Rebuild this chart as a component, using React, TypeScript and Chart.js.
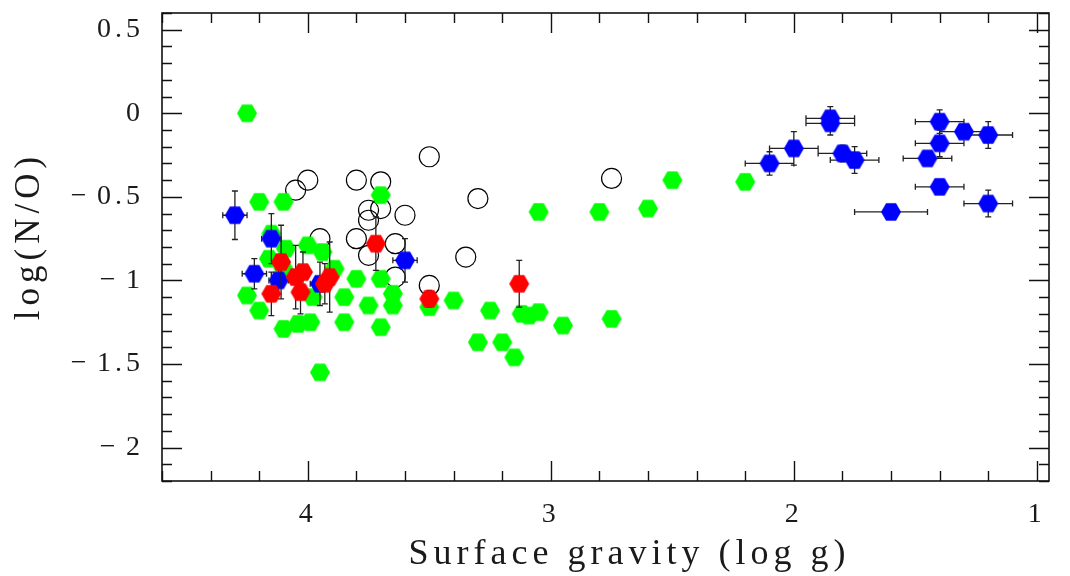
import React, { useEffect, useRef } from 'react';
import { Chart, registerables } from 'chart.js';

Chart.register(...registerables);

// ---------- data ----------
const greenLogG = [4.25, 4.20, 4.10, 3.70, 3.05, 2.80, 2.60, 2.50, 2.20, 4.15, 4.09, 4.00, 3.94, 4.16, 4.10, 3.89, 3.80, 3.70, 3.65, 3.85, 3.75, 3.65, 3.98, 4.25, 4.20, 4.10, 4.04, 3.99, 3.85, 3.70, 3.95, 3.50, 3.40, 3.25, 3.30, 3.20, 3.15, 3.12, 3.09, 3.05, 2.95, 2.75];
const greenLogNO = [0.00, -0.53, -0.53, -0.49, -0.59, -0.59, -0.57, -0.40, -0.41, -0.72, -0.81, -0.79, -0.83, -0.87, -0.93, -0.93, -0.99, -0.99, -1.08, -1.10, -1.15, -1.15, -1.10, -1.09, -1.18, -1.29, -1.26, -1.25, -1.25, -1.28, -1.55, -1.16, -1.12, -1.18, -1.37, -1.37, -1.46, -1.20, -1.21, -1.19, -1.27, -1.23];

const circleLogG = [4.00, 4.05, 3.80, 3.70, 3.50, 3.30, 2.75, 3.75, 3.75, 3.70, 3.60, 3.80, 3.64, 3.75, 3.64, 3.95, 3.35, 3.50];
const circleLogNO = [-0.40, -0.46, -0.40, -0.41, -0.26, -0.51, -0.39, -0.58, -0.64, -0.57, -0.61, -0.75, -0.78, -0.85, -0.98, -0.75, -0.86, -1.03];

const blueLogG = [4.30, 4.15, 4.22, 4.12, 3.60, 3.95, 1.85, 1.85, 2.00, 2.10, 1.80, 1.75, 1.60, 1.40, 1.30, 1.20, 1.40, 1.45, 1.40, 1.20];
const blueLogNO = [-0.61, -0.75, -0.96, -1.00, -0.88, -1.02, -0.03, -0.06, -0.21, -0.30, -0.24, -0.28, -0.59, -0.05, -0.11, -0.13, -0.18, -0.27, -0.44, -0.54];
const blueLogGErr = [0.05, 0.04, 0.05, 0.04, 0.05, 0.04, 0.10, 0.10, 0.10, 0.10, 0.10, 0.10, 0.15, 0.10, 0.10, 0.10, 0.10, 0.10, 0.10, 0.10];
const blueLogNOErr = [0.145, 0.15, 0.09, 0.08, 0.13, 0.13, 0.07, 0.07, 0.10, 0.07, 0.05, 0.08, 0.0, 0.07, 0.0, 0.08, 0.08, 0.02, 0.02, 0.08];

const redLogG = [3.72, 4.11, 4.02, 4.15, 4.03, 4.05, 3.91, 3.93, 3.50, 3.13];
const redLogNO = [-0.78, -0.89, -0.95, -1.08, -1.07, -0.98, -0.98, -1.02, -1.11, -1.02];
const redLogGErr = [0, 0, 0, 0, 0, 0, 0, 0, 0, 0];
const redLogNOErr = [0.16, 0.22, 0.12, 0.13, 0.13, 0.19, 0.21, 0.12, 0.05, 0.14];

const xTickValues = [4, 3, 2, 1];
const xTickLabels = ['4', '3', '2', '1'];
const yTickValues = [0.5, 0, -0.5, -1, -1.5, -2];
const yTickLabels = ['0.5', '0', '\u2212\u200A0.5', '\u2212\u200A1', '\u2212\u200A1.5', '\u2212\u200A2'];

const xTitle = 'Surface gravity (log g)';
const yTitle = 'log(N/O)';

const X_MIN = 0.95;
const X_MAX = 4.6;
const Y_MIN = -2.2;
const Y_MAX = 0.6;

const FONT = '"Liberation Serif", "DejaVu Serif", serif';
const TEXT_COLOR = '#1a1a1a';

function makeHexagon(color: string, r: number): HTMLCanvasElement {
  const w = 2 * r + 2;
  const h = Math.ceil(Math.sqrt(3) * r) + 2;
  const c = document.createElement('canvas');
  c.width = w;
  c.height = h;
  const ctx = c.getContext('2d')!;
  ctx.fillStyle = color;
  ctx.beginPath();
  for (let i = 0; i < 6; i++) {
    const a = (Math.PI / 3) * i;
    const px = w / 2 + r * Math.cos(a);
    const py = h / 2 + r * Math.sin(a);
    if (i === 0) ctx.moveTo(px, py);
    else ctx.lineTo(px, py);
  }
  ctx.closePath();
  ctx.fill();
  return c;
}

function zip(xs: number[], ys: number[]) {
  return xs.map((x, i) => ({ x, y: ys[i] }));
}

const errorBarPlugin = {
  id: 'errorBars',
  beforeDatasetDraw(chart: any, args: any) {
    const ds = chart.data.datasets[args.index];
    if (!ds.xErr && !ds.yErr) return;
    const { ctx } = chart;
    const xs = chart.scales.x;
    const ys = chart.scales.y;
    const cap = 3;
    ctx.save();
    ctx.strokeStyle = '#222';
    ctx.lineWidth = 1.3;
    ctx.beginPath();
    ds.data.forEach((p: any, i: number) => {
      const cx = xs.getPixelForValue(p.x);
      const cy = ys.getPixelForValue(p.y);
      const ey = ds.yErr ? ds.yErr[i] : 0;
      const ex = ds.xErr ? ds.xErr[i] : 0;
      if (ey > 0) {
        const y1 = ys.getPixelForValue(p.y + ey);
        const y2 = ys.getPixelForValue(p.y - ey);
        ctx.moveTo(cx, y1); ctx.lineTo(cx, y2);
        ctx.moveTo(cx - cap, y1); ctx.lineTo(cx + cap, y1);
        ctx.moveTo(cx - cap, y2); ctx.lineTo(cx + cap, y2);
      }
      if (ex > 0) {
        const x1 = xs.getPixelForValue(p.x + ex);
        const x2 = xs.getPixelForValue(p.x - ex);
        ctx.moveTo(x1, cy); ctx.lineTo(x2, cy);
        ctx.moveTo(x1, cy - cap); ctx.lineTo(x1, cy + cap);
        ctx.moveTo(x2, cy - cap); ctx.lineTo(x2, cy + cap);
      }
    });
    ctx.stroke();
    ctx.restore();
  },
};

const framePlugin = {
  id: 'frameTicks',
  beforeDraw(chart: any) {
    chart.ctx.letterSpacing = '4px';
  },
  afterDatasetsDraw(chart: any) {
    const { ctx, chartArea: a } = chart;
    const xs = chart.scales.x;
    const ys = chart.scales.y;
    ctx.save();
    ctx.strokeStyle = '#111';
    ctx.lineWidth = 1.4;
    ctx.beginPath();
    for (let i = Math.ceil(Y_MIN * 10); i <= Math.floor(Y_MAX * 10); i++) {
      const py = Math.round(ys.getPixelForValue(i / 10)) + 0.5;
      const len = i % 5 === 0 ? 20 : 10;
      ctx.moveTo(a.left, py); ctx.lineTo(a.left + len, py);
      ctx.moveTo(a.right, py); ctx.lineTo(a.right - len, py);
    }
    for (let i = Math.ceil(X_MIN * 5); i <= Math.floor(X_MAX * 5); i++) {
      const px = Math.round(xs.getPixelForValue(i / 5)) + 0.5;
      const len = i % 5 === 0 ? 20 : 10;
      ctx.moveTo(px, a.bottom); ctx.lineTo(px, a.bottom - len);
      ctx.moveTo(px, a.top); ctx.lineTo(px, a.top + len);
    }
    ctx.stroke();
    ctx.lineWidth = 1.6;
    ctx.strokeRect(a.left, a.top, a.right - a.left, a.bottom - a.top);
    ctx.restore();
  },
  afterDraw(chart: any) {
    const { ctx, chartArea: a } = chart;
    ctx.save();
    ctx.fillStyle = TEXT_COLOR;
    ctx.font = `36px ${FONT}`;
    ctx.letterSpacing = '5px';
    ctx.textAlign = 'center';
    ctx.textBaseline = 'middle';
    ctx.fillText(xTitle, (a.left + a.right) / 2 + 24, 555);
    ctx.font = `35px ${FONT}`;
    ctx.translate(30, (a.top + a.bottom) / 2 - 8);
    ctx.rotate(-Math.PI / 2);
    ctx.fillText(yTitle, 3, 0);
    ctx.restore();
  },
};

export default function App() {
  const canvasRef = useRef<HTMLCanvasElement | null>(null);

  useEffect(() => {
    document.body.style.margin = '0';
    const canvas = canvasRef.current;
    if (!canvas) return;
    const hexR = 10;
    const greenHex = makeHexagon('#00ff00', hexR);
    const blueHex = makeHexagon('#0000ff', hexR);
    const redHex = makeHexagon('#ff0000', hexR);

    const chart = new Chart(canvas, {
      type: 'scatter',
      data: {
        datasets: [
          {
            label: 'open',
            data: zip(circleLogG, circleLogNO),
            pointStyle: 'circle',
            pointRadius: 10,
            pointBackgroundColor: 'rgba(0,0,0,0)',
            pointBorderColor: '#000',
            pointBorderWidth: 1.2,
            order: 4,
          } as any,
          {
            label: 'green',
            data: zip(greenLogG, greenLogNO),
            pointStyle: greenHex,
            pointRadius: 10,
            order: 3,
          } as any,
          {
            label: 'blue',
            data: zip(blueLogG, blueLogNO),
            pointStyle: blueHex,
            pointRadius: 10,
            xErr: blueLogGErr,
            yErr: blueLogNOErr,
            order: 2,
          } as any,
          {
            label: 'red',
            data: zip(redLogG, redLogNO),
            pointStyle: redHex,
            pointRadius: 10,
            xErr: redLogGErr,
            yErr: redLogNOErr,
            order: 1,
          } as any,
        ],
      },
      options: {
        animation: false,
        responsive: false,
        devicePixelRatio: 1,
        events: [],
        layout: { padding: { top: 13, right: 21, left: 0, bottom: 0 } },
        plugins: { legend: { display: false }, tooltip: { enabled: false } },
        scales: {
          x: {
            type: 'linear',
            reverse: true,
            min: X_MIN,
            max: X_MAX,
            grid: { display: false, drawTicks: false },
            border: { display: false },
            afterBuildTicks: (s: any) => {
              s.ticks = xTickValues.map((v) => ({ value: v }));
            },
            afterFit: (s: any) => {
              s.height = 95;
              s.paddingLeft = 0;
              s.paddingRight = 0;
            },
            ticks: {
              padding: 17,
              maxRotation: 0,
              autoSkip: false,
              color: TEXT_COLOR,
              font: { family: FONT, size: 28 },
              callback: (_v: any, i: number) => xTickLabels[i],
            },
          },
          y: {
            type: 'linear',
            min: Y_MIN,
            max: Y_MAX,
            grid: { display: false, drawTicks: false },
            border: { display: false },
            afterBuildTicks: (s: any) => {
              s.ticks = yTickValues.map((v) => ({ value: v }));
            },
            afterFit: (s: any) => {
              s.width = 162;
              s.paddingTop = 0;
              s.paddingBottom = 0;
            },
            ticks: {
              padding: 18,
              autoSkip: false,
              color: TEXT_COLOR,
              font: { family: FONT, size: 28 },
              callback: (_v: any, i: number) => yTickLabels[i],
            },
          },
        },
      },
      plugins: [errorBarPlugin, framePlugin],
    } as any);

    return () => {
      chart.destroy();
    };
  }, []);

  return (
    <div style={{ width: 1070, height: 576, background: '#fff' }}>
      <canvas ref={canvasRef} width={1070} height={576} style={{ display: 'block' }} />
    </div>
  );
}
